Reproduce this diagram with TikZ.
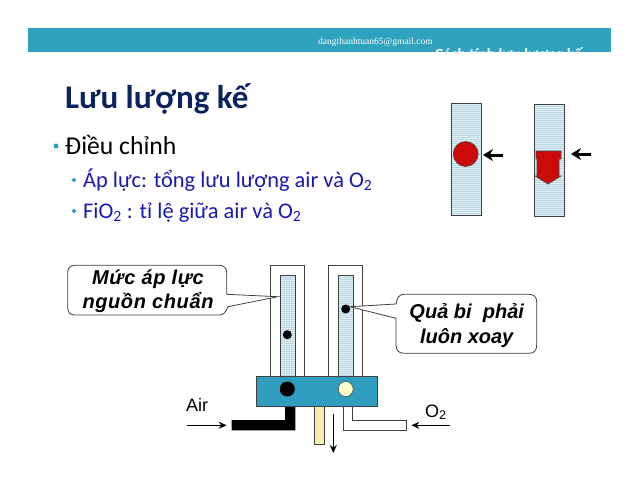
\documentclass[tikz,border=0pt]{standalone}
\usepackage{fontspec}
\setmainfont{Carlito}
\newfontfamily\arialf{Liberation Sans}
\newfontfamily\arialsp[LetterSpace=3]{Liberation Sans}
\newfontfamily\timesf{Liberation Serif}
\usetikzlibrary{arrows.meta}
\definecolor{band}{HTML}{2FA2BE}
\definecolor{navy}{HTML}{0B2360}
\definecolor{bluetxt}{HTML}{1A1AB0}
\definecolor{tube}{HTML}{DCEDF3}
\definecolor{tubeline}{HTML}{BCD9E3}
\definecolor{redf}{HTML}{CC0A0A}
\definecolor{block}{HTML}{2F9DBE}
\definecolor{creamf}{HTML}{FFFFCC}
\definecolor{creamt}{HTML}{F5EDB0}
\tikzset{
 x=1pt,y=-1pt,
 tubebox/.style={fill=tube},
 edgeline/.style={draw=black!75,line width=.9pt},
 frame/.style={draw=black!75,line width=.9pt,fill=white},
 flow/.style={-{Stealth[length=8pt,width=7pt]},line width=1.5pt},
 bigflow/.style={-{Stealth[length=10pt,width=12pt]},line width=3pt},
 callout/.style={draw=black!75,line width=.8pt,fill=white},
 lab/.style={font=\arialf\fontsize{20}{24.5}\selectfont\bfseries\itshape,align=center,inner sep=0pt},
 labsp/.style={font=\arialsp\fontsize{20}{23.5}\selectfont\bfseries\itshape,align=center,inner sep=0pt},
 l1/.style={anchor=base west,inner sep=0pt},
 bul/.style={circle,fill=band,inner sep=0pt},
}
% x1, x2, first y, number of stripes
\newcommand{\stripes}[4]{\foreach \k in {1,...,#4}{\draw[tubeline,line width=.5pt] (#1,{#3+2*\k})--(#2,{#3+2*\k});}}
\begin{document}
\begin{tikzpicture}
\useasboundingbox (0,0) rectangle (638,493);
\fill[white] (0,0) rectangle (638,493);
% header
\begin{scope}
\clip (0,28) rectangle (638,52);
\fill[band] (28,28) rectangle (611,52);
\node[l1,text=white,font=\bfseries\fontsize{15.5}{20}\selectfont] (clipped) at (435,59.5) {Cách tính lưu lượng kế};
\end{scope}
\node[anchor=base west,inner sep=0pt,text=white,font=\timesf\fontsize{9.5}{11}\selectfont] (mail) at (318,44) {dangthanhtuan65@gmail.com};
% title
\node[l1,text=navy,font=\bfseries\fontsize{33}{36}\selectfont] (title) at (65,108) {Lưu lượng kế};
% bullets
\node[bul,minimum size=5pt] (b1) at (56,146) {};
\node[l1,font=\fontsize{25.7}{30}\selectfont] (t1) at (65,154) {Điều chỉnh};
\node[bul,minimum size=4pt] (b2) at (74,180) {};
\node[l1,text=bluetxt,font=\fontsize{22.4}{26}\selectfont] (t2) at (83,187) {Áp lực: tổng lưu lượng air và O\textsubscript{2}};
\node[bul,minimum size=4pt] (b3) at (74,211) {};
\node[l1,text=bluetxt,font=\fontsize{22.4}{26}\selectfont] (t3) at (83,218) {FiO\textsubscript{2} : tỉ lệ giữa air và O\textsubscript{2}};
% top tubes
\path[tubebox] (451,103) rectangle (481,215);
\stripes{451.5}{480.5}{103}{55}
\draw[edgeline] (451,103) rectangle (481,215);
\path[tubebox] (534,104) rectangle (564,216);
\stripes{534.5}{563.5}{104}{55}
\draw[edgeline] (534,104) rectangle (564,216);
\node[circle,draw=black!70,line width=.6pt,fill=redf,minimum size=25pt,inner sep=0pt] (ball) at (465.7,154) {};
\draw[fill=redf,draw=black!70,line width=.6pt] (536,151)--(561,151)--(561,159)--(559,159)--(559,176)--(561,176)--(548,184)--(535,176)--(537,176)--(537,159)--(536,159)--cycle;
\coordinate (a1t) at (503,155); \coordinate (a1h) at (483,155);
\coordinate (a2t) at (591,154); \coordinate (a2h) at (571,154);
\draw[bigflow] (a1t)--(a1h);
\draw[bigflow] (a2t)--(a2h);
% flowmeter
\draw[frame] (270.7,376.7)--(270.7,265.7)--(304.7,265.7)--(304.7,376.7);
\draw[frame] (328.7,376.7)--(328.7,265.7)--(362.7,265.7)--(362.7,376.7);
\path[tubebox] (280,275) rectangle (295,376.7);
\stripes{280.5}{294.5}{275}{50}
\draw[edgeline] (280,376.7)--(280,275)--(295,275)--(295,376.7);
\path[tubebox] (338.3,275) rectangle (353,376.7);
\stripes{338.8}{352.5}{275}{50}
\draw[edgeline] (338.3,376.7)--(338.3,275)--(353,275)--(353,376.7);
% pipes
\fill[black] (285,405)--(295.3,405)--(295.3,430.3)--(231.7,430.3)--(231.7,420)--(285,420)--cycle;
\draw[edgeline,fill=white] (343.3,406)--(343.3,430.3)--(406.3,430.3)--(406.3,420.3)--(352.7,420.3)--(352.7,406);
\draw[edgeline,fill=creamt] (314,406) rectangle (324.3,444.7);
\node[edgeline,fill=block,minimum width=120.7pt,minimum height=29.3pt,inner sep=0pt] (blk) at (316.65,391.35) {};
\node[circle,fill=black,minimum size=15pt,inner sep=0pt] (c1) at (287.3,389) {};
\node[circle,draw=black!70,line width=.6pt,fill=creamf,minimum size=15pt,inner sep=0pt] (c2) at (345.7,389) {};
\coordinate (airt) at (187.3,425.3); \coordinate (airh) at (226.7,425.3);
\coordinate (ot) at (450,425.3); \coordinate (oh) at (411.3,425.3);
\coordinate (outh) at (333.3,453);\coordinate (outt) at (333.3,414);
\draw[flow] (airt)--(airh);
\draw[flow] (ot)--(oh);
\draw[flow] (outt)--(outh);
\node[font=\arialf\fontsize{18}{21}\selectfont,anchor=base west,inner sep=0pt] (air) at (186,411) {Air};
\node[font=\arialf\fontsize{18}{21}\selectfont,anchor=base west,inner sep=0pt] (o2) at (425,417) {O\textsubscript{2}};
% balls
\node[circle,fill=black,minimum size=9pt,inner sep=0pt] (bl) at (287.3,334.7) {};
\node[circle,fill=black,minimum size=9pt,inner sep=0pt] (br) at (345.7,309) {};
% callouts
\coordinate (tl) at (277.7,296.7);
\coordinate (tr) at (350,306.7);
\draw[callout] (75,265.3)--(219,265.3) .. controls (224,265.3) and (226.7,268) .. (226.7,273)--(226.7,294.3)--(tl)--(228,306.7) .. controls (226,311) and (224,315) .. (220,315)--(75,315) .. controls (70,315) and (67.7,312.5) .. (67.7,307)--(67.7,273) .. controls (67.7,268) and (70,265.3) .. (75,265.3)--cycle;
\draw[callout] (404,294.3)--(529,294.3) .. controls (534,294.3) and (536.7,297) .. (536.7,302)--(536.7,345) .. controls (536.7,350.5) and (534,353.3) .. (529,353.3)--(404,353.3) .. controls (399,353.3) and (396,350.5) .. (396,345)--(396,318.3)--(tr)--(396,304) .. controls (397,298) and (399,294.3) .. (404,294.3)--cycle;
\node[labsp] (lc) at (148,291) {Mức áp lực\\nguồn chuẩn};
\node[lab] (rc) at (466.7,325.5) {Quả bi\ \ phải\\luôn xoay};
\end{tikzpicture}
\end{document}
